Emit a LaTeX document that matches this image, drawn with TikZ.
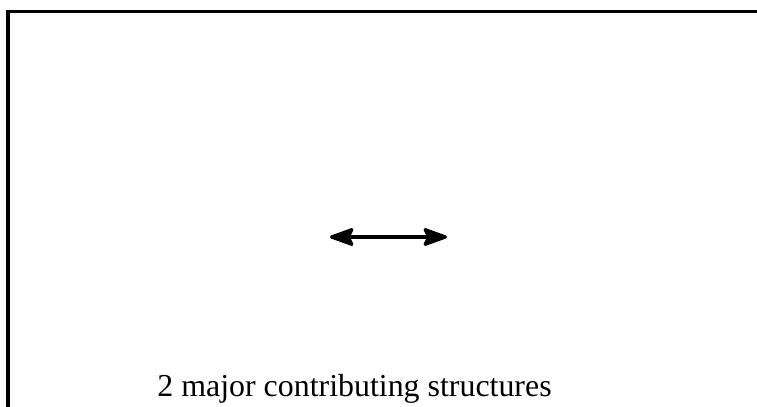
\documentclass[tikz,border=0pt]{standalone}
\usepackage{fontspec}
\setmainfont{Liberation Serif}
\usetikzlibrary{arrows.meta}
\begin{document}
\begin{tikzpicture}[x=0.5pt,y=-0.5pt,
  frameline/.style={line width=1.5pt,line cap=rect},
  resarrow/.style={line width=1.6pt,{Stealth[length=14pt,width=10pt,inset=2.5pt,round]}-{Stealth[length=14pt,width=10pt,inset=2.5pt,round]}},
  caption/.style={font=\fontsize{15.95pt}{19pt}\selectfont,anchor=base west,inner sep=0pt}]
\useasboundingbox (0,0) rectangle (757,407);
\coordinate (tl) at (8,11);
\coordinate (tr) at (757,11);
\coordinate (bl) at (8,407);
\draw[frameline] (tr) -- (tl) -- (bl);
\coordinate (al) at (330,237);
\coordinate (ar) at (447,237);
\draw[resarrow] (al) -- (ar);
\node[caption] (cap) at (157,396) {2 major contributing structures};
\end{tikzpicture}
\end{document}
